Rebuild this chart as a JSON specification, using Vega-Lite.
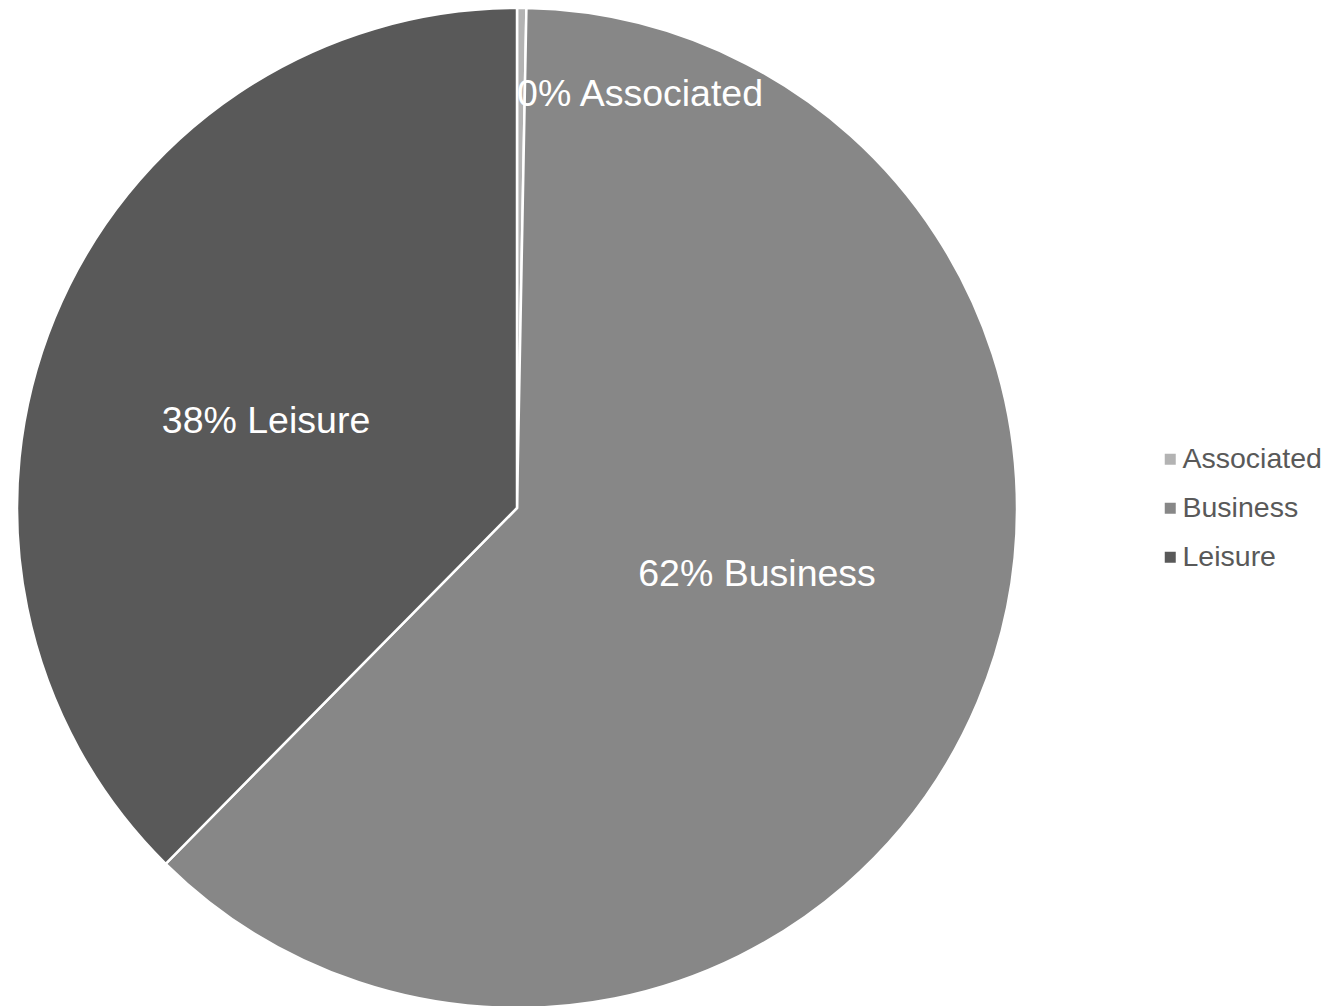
{
  "$schema": "https://vega.github.io/schema/vega-lite/v6.json",
  "width": 1034,
  "height": 996,
  "padding": {"top": 3, "left": 0, "right": 0, "bottom": 0},
  "autosize": {"type": "pad"},
  "background": "white",
  "config": {"view": {"stroke": null}, "font": "Liberation Sans"},
  "data": {
    "values": [
      {"category": "Associated", "share": 0.3, "label": "0% Associated"},
      {"category": "Business", "share": 62.1, "label": "62% Business"},
      {"category": "Leisure", "share": 37.6, "label": "38% Leisure"}
    ]
  },
  "encoding": {
    "theta": {"field": "share", "type": "quantitative", "stack": true},
    "order": {"field": "category", "type": "nominal", "sort": "ascending"}
  },
  "layer": [
    {
      "mark": {"type": "arc", "outerRadius": 500, "stroke": "white", "strokeWidth": 2.5},
      "encoding": {
        "color": {
          "field": "category",
          "type": "nominal",
          "scale": {"domain": ["Associated", "Business", "Leisure"], "range": ["#b3b3b3", "#878787", "#595959"]},
          "legend": {
            "title": null,
            "orient": "none",
            "legendX": 1156,
            "legendY": 435,
            "symbolType": "square",
            "symbolSize": 121,
            "symbolStrokeWidth": 0,
            "labelFontSize": 28.5,
            "labelColor": "#595959",
            "labelFont": "Liberation Sans",
            "labelOffset": -2,
            "rowPadding": 20,
            "labelLimit": 400
          }
        }
      }
    },
    {
      "mark": {"type": "text", "radius": 432, "dx": 119, "dy": 19, "fontSize": 37.5, "color": "white", "font": "Liberation Sans"},
      "encoding": {"text": {"condition": {"test": "datum.category === 'Associated'", "field": "label"}, "value": ""}}
    },
    {
      "mark": {"type": "text", "radius": 249, "dx": 10.6, "dy": -29.7, "fontSize": 37.5, "color": "white", "font": "Liberation Sans"},
      "encoding": {"text": {"condition": {"test": "datum.category === 'Business'", "field": "label"}, "value": ""}}
    },
    {
      "mark": {"type": "text", "radius": 266, "dx": -4.9, "dy": 15, "fontSize": 37.5, "color": "white", "font": "Liberation Sans"},
      "encoding": {"text": {"condition": {"test": "datum.category === 'Leisure'", "field": "label"}, "value": ""}}
    }
  ]
}
